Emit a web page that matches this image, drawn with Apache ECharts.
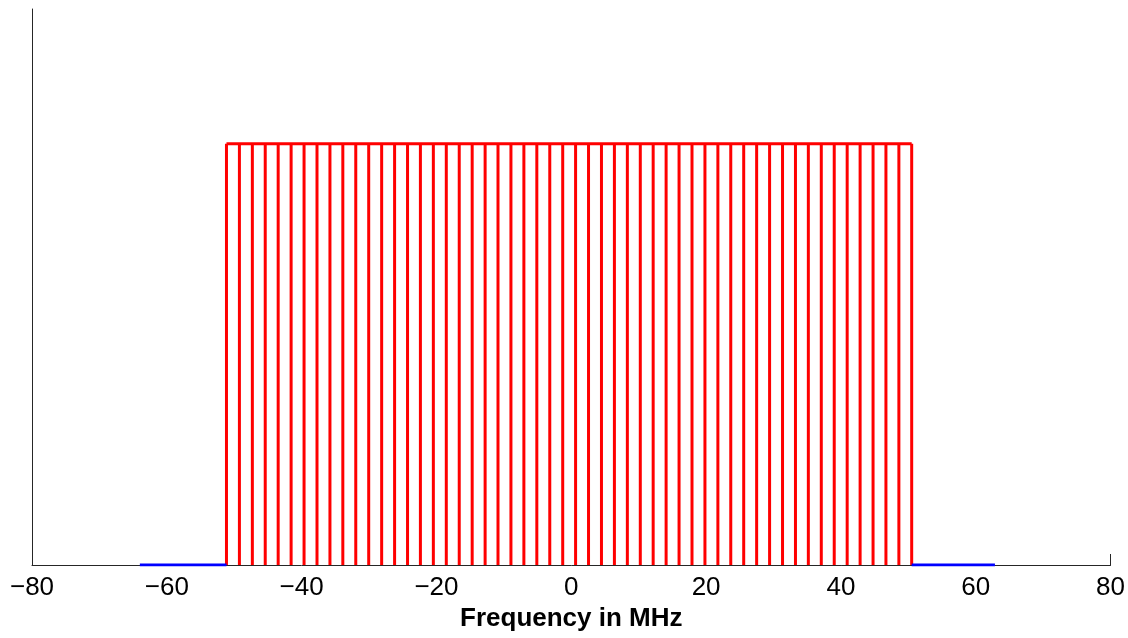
<!DOCTYPE html>
<html>
<head>
<meta charset="utf-8">
<script src="https://cdn.jsdelivr.net/npm/echarts@6/dist/echarts.min.js"></script>
<style>html,body{margin:0;padding:0;background:#fff}#c{width:1128px;height:638px}</style>
</head>
<body>
<div id="c"></div>
<script>
// Subcarrier frequencies (MHz)
const carrierFreqs = [-51.15, -49.23, -47.31, -45.40, -43.48, -41.56, -39.64, -37.72, -35.80, -33.89,
  -31.97, -30.05, -28.13, -26.21, -24.29, -22.38, -20.46, -18.54, -16.62, -14.70,
  -12.78, -10.87, -8.95, -7.03, -5.11, -3.19, -1.27, 0.64, 2.56, 4.48,
  6.40, 8.32, 10.24, 12.15, 14.07, 15.99, 17.91, 19.83, 21.75, 23.66,
  25.58, 27.50, 29.42, 31.34, 33.26, 35.17, 37.09, 39.01, 40.93, 42.85,
  44.77, 46.68, 48.60, 50.50];
const carrierAmp = 1;
const topLine = [[-51.15, 1], [50.50, 1]];
const guardLeft = [[-64.0, 0], [-51.15, 0]];
const guardRight = [[50.50, 0], [62.85, 0]];
const xTicks = [-80, -60, -40, -20, 0, 20, 40, 60, 80];

const chart = echarts.init(document.getElementById('c'), null, {renderer: 'canvas'});
const fmt = v => (v < 0 ? '\u2212' + Math.abs(v) : String(v));
chart.setOption({
  animation: false,
  grid: {left: 32, right: 14, top: 9, bottom: 73, containLabel: false},
  xAxis: [{
    type: 'value', min: xTicks[0], max: xTicks[xTicks.length - 1], interval: 20,
    axisLine: {show: true, onZero: false, lineStyle: {color: '#262626', width: 1}},
    axisTick: {show: false},
    splitLine: {show: false},
    axisLabel: {formatter: fmt, fontFamily: 'Liberation Sans, Arial, sans-serif', fontSize: 26, color: '#000', margin: 10},
    name: 'Frequency in MHz', nameLocation: 'middle', nameGap: 32,
    nameTextStyle: {fontFamily: 'Liberation Sans, Arial, sans-serif', fontSize: 26, fontWeight: 'bold', color: '#000', verticalAlign: 'top'}
  }, {
    type: 'value', min: -80, max: 80, interval: 160, position: 'bottom',
    axisLine: {show: false, onZero: false},
    axisTick: {show: true, inside: true, length: 11, lineStyle: {color: '#262626', width: 1}},
    axisLabel: {show: false}, splitLine: {show: false}
  }],
  yAxis: {
    type: 'value', min: 0, max: 1.32,
    axisLine: {show: true, onZero: false, lineStyle: {color: '#262626', width: 1}},
    axisTick: {show: false}, axisLabel: {show: false}, splitLine: {show: false}
  },
  series: [{
    type: 'custom',
    data: carrierFreqs.map(f => [f, carrierAmp]),
    renderItem: (params, api) => {
      const x = api.value(0);
      const p0 = api.coord([x, 0]);
      const p1 = api.coord([x, api.value(1)]);
      return {type: 'line', shape: {x1: p0[0], y1: p0[1], x2: p1[0], y2: p1[1]},
        style: {stroke: '#ff0000', lineWidth: 3}};
    },
    z: 3
  }, {
    type: 'line', data: topLine, symbol: 'none',
    lineStyle: {color: '#ff0000', width: 3}, z: 3
  }, {
    type: 'line', data: guardLeft, symbol: 'none',
    lineStyle: {color: '#0000ff', width: 3}, z: 4
  }, {
    type: 'line', data: guardRight, symbol: 'none',
    lineStyle: {color: '#0000ff', width: 3}, z: 4
  }]
});
</script>
</body>
</html>
